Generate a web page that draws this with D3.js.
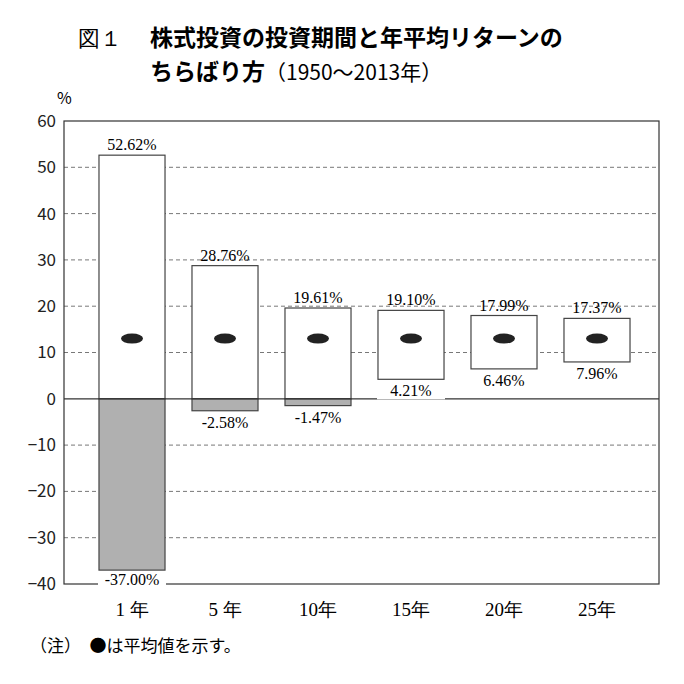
<!DOCTYPE html><html><head><meta charset="utf-8"><script src="https://cdn.jsdelivr.net/npm/d3@7"></script>
<style>body{margin:0;background:#fff}</style></head><body><svg id="c" width="684" height="684"></svg><script>
const categories=["1 年","5 年","10年","15年","20年","25年"];
const highs=[52.62,28.76,19.61,19.10,17.99,17.37];
const lows=[-37.00,-2.58,-1.47,4.21,6.46,7.96];
const means=[13,13,13,13,13,13];
const yTicks=[60,50,40,30,20,10,0,-10,-20,-30,-40];
const svg=d3.select("#c");
const L=64,R=659,T=121,B=584;
const y=d3.scaleLinear().domain([-40,60]).range([B,T]);
const x=d3.scaleBand().domain(categories).range([85.5,643.5]).paddingInner(0.29).paddingOuter(0.145);
const serif="'Liberation Serif','DejaVu Serif',serif", sans="'Noto Sans CJK JP','Noto Sans',sans-serif";
svg.append("text").attr("x",78).attr("y",46).attr("font-family",serif).attr("font-size",22).text("図１");
svg.append("text").attr("x",150).attr("y",46).attr("font-family",sans).attr("font-weight","bold").attr("font-size",23).text("株式投資の投資期間と年平均リターンの");
svg.append("text").attr("x",150).attr("y",80).attr("font-family",sans).attr("font-weight","bold").attr("font-size",23).text("ちらばり方").append("tspan").attr("font-weight","normal").attr("font-size",21).text("（1950～2013年）");
svg.append("text").attr("x",57).attr("y",104).attr("font-family",sans).attr("font-size",16).text("%");
yTicks.forEach(t=>{ if(t!==0&&t!==60&&t!==-40) svg.append("line").attr("x1",L).attr("x2",R).attr("y1",y(t)).attr("y2",y(t)).attr("stroke","#555").attr("stroke-dasharray","4,3").attr("stroke-width",0.8);});
const ax=svg.append("g").attr("transform",`translate(${L},0)`).call(d3.axisLeft(y).tickValues(yTicks).tickSize(0).tickPadding(8));
ax.select(".domain").remove();
ax.selectAll("text").attr("font-family",sans).attr("font-size",17).attr("fill","#222");
const labels=svg.append("g");
categories.forEach((c,i)=>{
 const bx=x(c),bw=x.bandwidth();
 svg.append("rect").attr("x",bx).attr("y",y(highs[i])).attr("width",bw).attr("height",y(Math.max(0,lows[i]))-y(highs[i])).attr("fill","#fff").attr("stroke","#444").attr("stroke-width",1.2);
 if(lows[i]<0) svg.append("rect").attr("x",bx).attr("y",y(0)).attr("width",bw).attr("height",y(lows[i])-y(0)).attr("fill","#b0b0b0").attr("stroke","#444").attr("stroke-width",1.2);
 svg.append("ellipse").attr("cx",bx+bw/2).attr("cy",y(means[i])).attr("rx",11).attr("ry",5).attr("fill","#222");
 svg.append("text").attr("x",bx+bw/2).attr("y",y(highs[i])-5).attr("text-anchor","middle").attr("font-family",serif).attr("font-size",16).text(highs[i].toFixed(2)+"%");
 const ly=Math.min(y(lows[i])+17,B+1);
 labels.append("rect").attr("x",bx+bw/2-34).attr("y",ly-13).attr("width",68).attr("height",16).attr("fill","#fff");
 labels.append("text").attr("x",bx+bw/2).attr("y",ly).attr("text-anchor","middle").attr("font-family",serif).attr("font-size",16).text(lows[i].toFixed(2)+"%");
 svg.append("text").attr("x",bx+bw/2).attr("y",616).attr("text-anchor","middle").attr("font-family",serif).attr("font-size",19).text(c);
});
svg.append("line").attr("x1",L).attr("x2",R).attr("y1",y(0)).attr("y2",y(0)).attr("stroke","#333").attr("stroke-width",1.2);
svg.append("rect").attr("x",L).attr("y",T).attr("width",R-L).attr("height",B-T).attr("fill","none").attr("stroke","#333").attr("stroke-width",1.2);
labels.raise();
svg.append("text").attr("x",30).attr("y",652).attr("font-family",sans).attr("font-size",17).text("（注）　●は平均値を示す。");
</script></body></html>
